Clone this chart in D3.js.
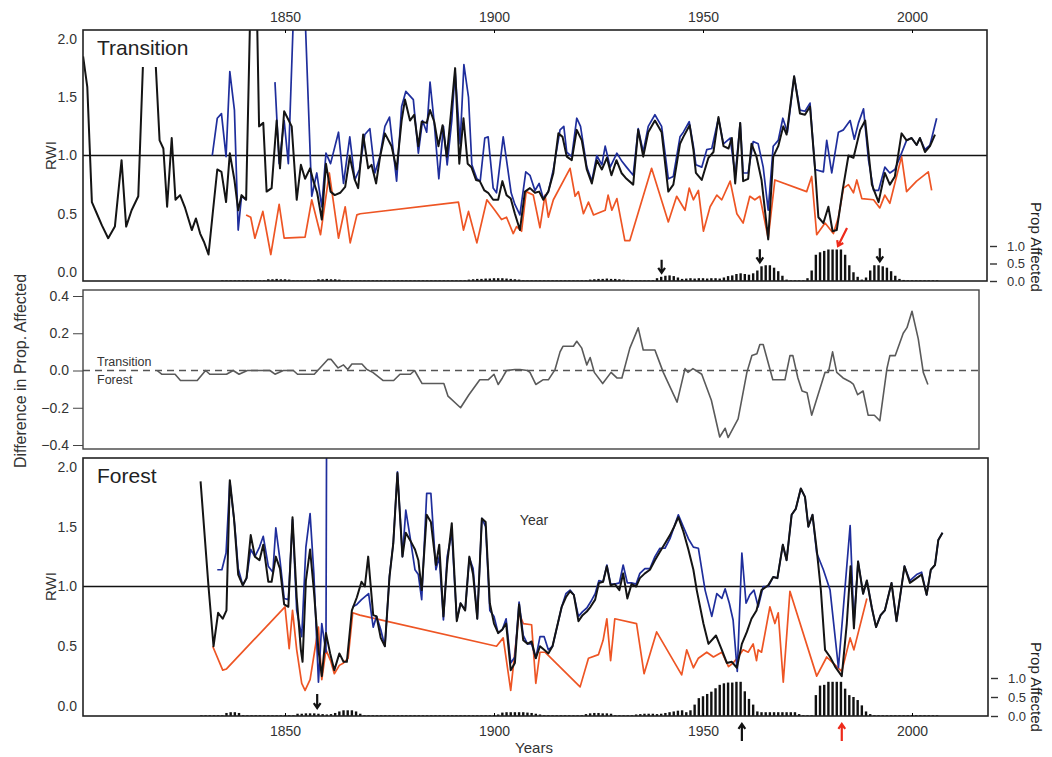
<!DOCTYPE html>
<html>
<head>
<meta charset="utf-8">
<script src="https://cdn.jsdelivr.net/npm/d3@7"></script>
<style>
  body { margin: 0; background: #fff; }
  svg { display: block; font-family: "Liberation Sans", Arial, sans-serif; }
  .axis text { fill: #333; }
</style>
</head>
<body>
<div id="chart"></div>
<script>
// ---- data ----
// [year, RWI] pairs; null marks a break in the series
var transBlack = [[1801.7,1.85],[1802.7,1.59],[1803.8,0.60],[1805,0.50],[1806.2,0.40],[1807.7,0.29],[1809.3,0.39],[1810.9,0.96],[1812,0.39],[1813.3,0.53],[1814.9,0.65],[1816,1.76],[1817.5,null],[1819.1,1.76],[1820,1.13],[1820.9,1.06],[1821.8,0.56],[1822.9,1.15],[1823.8,0.62],[1824.9,0.66],[1826.1,0.55],[1827.7,0.36],[1828.7,0.46],[1829.7,0.33],[1830.6,0.26],[1831.7,0.15],[1832.7,0.5],[1833.8,0.88],[1834.8,0.86],[1835.9,0.6],[1836.8,1.02],[1837.9,0.79],[1838.8,0.53],[1839.6,0.66],[1840.7,0.62],[1841.9,2.6],[1843.1,2.6],[1843.8,1.25],[1844.8,1.28],[1845.6,0.69],[1846.8,0.72],[1848,1.3],[1848.8,0.89],[1849.8,1.38],[1851.6,1.25],[1852.8,0.62],[1853.8,0.92],[1854.8,0.8],[1856,0.89],[1856.8,0.78],[1857.7,0.68],[1858.8,0.45],[1859.8,0.93],[1860.9,0.69],[1861.9,0.66],[1863.2,0.68],[1864.4,0.73],[1865.5,0.99],[1866.7,0.79],[1867.5,0.72],[1868.7,1.18],[1869.9,0.89],[1870.7,0.92],[1871.8,0.76],[1872.7,0.98],[1873.9,1.19],[1875.5,1.08],[1876.7,0.88],[1877.9,1.3],[1878.7,1.48],[1879.9,1.3],[1880.9,1.35],[1881.9,1.08],[1882.7,1.29],[1883.9,1.28],[1884.7,1.39],[1885.7,1.29],[1886.7,1.08],[1887.7,1.26],[1888.7,0.99],[1889.7,1.36],[1890.7,1.75],[1891.7,0.93],[1892.7,1.32],[1893.7,0.93],[1894.6,0.9],[1895.7,0.79],[1896.6,0.78],[1897.7,0.7],[1898.6,0.68],[1899.8,0.62],[1901,0.62],[1902,0.78],[1903,0.66],[1904,0.63],[1905,0.5],[1906.2,0.36],[1907.4,0.69],[1908.6,0.72],[1909.8,0.68],[1910.8,0.69],[1911.8,0.62],[1913,0.69],[1914.2,0.85],[1915.4,1.19],[1916.4,1.16],[1917.4,0.99],[1918.6,0.96],[1919.8,1.22],[1921,1.13],[1922.2,0.88],[1923.4,0.76],[1924.6,0.96],[1925.8,0.88],[1927,0.98],[1928.1,0.83],[1929.3,0.96],[1930.5,0.85],[1931.7,0.8],[1933.3,0.75],[1934.5,1.22],[1935.7,0.99],[1936.9,1.2],[1938.5,1.3],[1940.1,1.2],[1941.7,0.69],[1942.9,0.75],[1944.5,1.1],[1945.3,1.16],[1946.8,1.26],[1947.7,1.05],[1948.3,0.85],[1949.7,0.79],[1951.3,0.98],[1952.5,1.03],[1953.7,1.33],[1954.9,1.08],[1956.1,1.06],[1956.9,1.15],[1957.7,0.76],[1958.9,1.28],[1959.6,0.78],[1960.8,0.8],[1961.6,1.1],[1962.8,0.99],[1964,0.79],[1965.6,0.28],[1966.8,0.99],[1968,1.08],[1969.2,1.25],[1970,1.18],[1971.8,1.68],[1973.2,1.36],[1974.4,1.35],[1975.6,1.42],[1976.8,0.89],[1977.6,0.47],[1978.8,0.42],[1980,0.56],[1981,0.35],[1982,0.36],[1983.4,0.7],[1984.8,1.0],[1986,0.98],[1987.6,1.22],[1988.8,1.3],[1990.4,0.75],[1992,0.6],[1993.5,0.85],[1994.7,0.75],[1995.9,0.82],[1997.5,1.19],[1998.7,1.13],[1999.9,1.15],[2001.1,1.09],[2001.9,1.15],[2003.1,1.03],[2004.3,1.08],[2005.5,1.18]];

var transBlue = [[1832.6,1.0],[1833.8,1.32],[1834.8,1.36],[1835.9,0.99],[1836.8,1.72],[1837.9,1.39],[1838.8,0.36],[1839.6,0.65],[1840.7,0.62],[1844,null],[1847.6,1.63],[1848.6,0.93],[1849.8,1.3],[1850.8,0.93],[1852.4,2.6],[1854.4,2.6],[1856.4,0.65],[1857.6,0.85],[1858.8,0.56],[1859.8,1.02],[1860.9,0.93],[1862.8,1.2],[1864,0.76],[1865.5,1.16],[1866.7,0.79],[1867.8,0.88],[1869.1,1.18],[1870.3,1.23],[1871.5,0.85],[1872.7,0.99],[1873.9,1.25],[1875,1.33],[1876.7,0.78],[1877.9,1.42],[1878.9,1.55],[1880.7,1.48],[1881.9,1.02],[1882.9,1.3],[1883.9,1.2],[1884.7,1.63],[1885.7,1.28],[1886.8,0.8],[1887.9,1.25],[1888.8,0.92],[1889.9,1.3],[1890.7,1.72],[1891.9,1.1],[1892.8,1.78],[1893.9,1.5],[1894.7,0.92],[1895.9,0.8],[1896.7,0.78],[1897.8,1.15],[1898.6,1.16],[1899.8,0.72],[1900.6,0.68],[1902.2,1.16],[1903,0.96],[1904.1,0.68],[1905,0.58],[1906.2,0.49],[1907.6,0.86],[1908.6,0.83],[1909.8,0.7],[1910.8,0.76],[1911.8,0.63],[1913,0.69],[1914.2,0.88],[1915.8,1.22],[1916.7,1.25],[1917.4,1.03],[1918.6,0.99],[1919.8,1.32],[1920.7,1.25],[1922.2,0.9],[1923.4,0.78],[1924.6,1.0],[1925.8,0.92],[1926.6,1.08],[1927.8,0.9],[1929.4,1.02],[1930.6,0.95],[1931.7,0.9],[1933.3,0.83],[1934.5,1.23],[1935.7,1.03],[1936.9,1.25],[1938.5,1.35],[1940.1,1.25],[1941.7,0.8],[1942.9,0.82],[1944.5,1.16],[1945.3,1.2],[1946.7,1.29],[1947.7,1.08],[1948.3,0.92],[1949.7,0.9],[1950.9,1.05],[1952.1,1.06],[1953.7,1.32],[1954.9,1.1],[1956.5,1.15],[1957.7,0.83],[1958.9,1.28],[1959.6,0.85],[1960.8,0.85],[1962,1.12],[1963.2,1.1],[1964.4,0.9],[1965.6,0.53],[1966.8,1.08],[1968,1.13],[1969.1,1.32],[1970.2,1.2],[1971.8,1.68],[1973.2,1.39],[1974.4,1.38],[1975.6,1.45],[1976.8,0.88],[1978.8,0.86],[1979.6,1.13],[1980.8,0.85],[1982.4,1.2],[1983.6,1.22],[1985.2,1.3],[1986.2,1.14],[1987.2,1.28],[1988.4,1.4],[1989.6,0.96],[1990.8,0.7],[1992,0.7],[1993.5,0.9],[1994.7,0.85],[1995.9,0.88],[1997.5,1.02],[1998.7,1.13],[1999.9,1.15],[2001.1,1.09],[2001.9,1.15],[2003.1,1.05],[2004.3,1.09],[2005.9,1.32]];

var transOrange = [[1840.7,0.49],[1841.8,0.47],[1842.8,0.29],[1844.7,0.52],[1846.6,0.15],[1848.6,0.58],[1849.8,0.29],[1854.8,0.3],[1856.4,0.62],[1858.5,0.32],[1860.6,0.85],[1862.8,0.29],[1864.4,0.56],[1865.6,0.25],[1867.2,0.49],[1868,0.5],[1891.5,0.6],[1892.7,0.36],[1893.9,0.52],[1895.9,0.25],[1898.3,0.62],[1900.2,0.53],[1901.8,0.45],[1903,0.47],[1904.6,0.33],[1905.4,0.39],[1906.6,0.35],[1907.7,0.69],[1909.4,0.66],[1911,0.38],[1912.2,0.66],[1913,0.47],[1914.2,0.62],[1918.2,0.89],[1919.4,0.65],[1920.2,0.69],[1921.4,0.5],[1922.6,0.6],[1923.8,0.49],[1926.6,0.53],[1927.3,0.66],[1928.2,0.53],[1929.4,0.63],[1931.3,0.27],[1932.5,0.27],[1937.7,0.89],[1941.7,0.43],[1943.7,0.65],[1945.7,0.53],[1946.7,0.72],[1947.7,0.62],[1948.9,0.7],[1950.1,0.35],[1951.7,0.56],[1953.3,0.66],[1954.5,0.62],[1956.5,0.78],[1958.1,0.5],[1959.6,0.42],[1961.2,0.65],[1962.4,0.62],[1963.6,0.65],[1965.6,0.29],[1967.2,0.79],[1974.8,0.69],[1976,0.82],[1977.2,0.32],[1979.2,0.42],[1981.2,0.33],[1982.4,0.47],[1983.6,0.72],[1984.8,0.75],[1986,0.68],[1986.8,0.79],[1988,0.63],[1990.8,0.62],[1992.3,0.55],[1993.5,0.66],[1994.7,0.59],[1997.5,0.99],[1998.7,0.69],[2001.1,0.78],[2003.9,0.86],[2004.7,0.7]];

var forestBlack = [[1829.8,1.88],[1831.7,1.0],[1832.9,0.5],[1834,0.78],[1835.1,0.73],[1836,0.8],[1836.8,1.89],[1837.8,1.57],[1838.8,1.1],[1839.9,1.01],[1840.8,1.07],[1841.8,1.43],[1842.8,1.25],[1843.9,1.22],[1844.8,1.35],[1846,1.04],[1846.8,1.04],[1847.8,1.25],[1848.8,1.15],[1849.8,0.85],[1850.8,0.83],[1851.8,1.58],[1852.8,0.91],[1853.8,0.47],[1854.2,0.37],[1855,1.05],[1856,1.31],[1856.9,0.97],[1858,0.47],[1858.8,0.25],[1859.8,0.61],[1860.8,0.44],[1861.8,0.3],[1863,0.44],[1864,0.37],[1864.8,0.37],[1866,0.8],[1867.2,0.91],[1868.3,1.04],[1869.1,1.0],[1869.9,1.25],[1871.1,0.76],[1871.9,0.75],[1872.9,0.57],[1873.9,0.5],[1875,1.08],[1875.9,1.36],[1876.9,1.95],[1878.1,1.25],[1878.9,1.45],[1879.9,1.39],[1881.1,1.31],[1881.9,1.22],[1882.7,0.97],[1883.9,1.6],[1884.9,1.54],[1886.1,1.18],[1886.9,1.35],[1887.9,0.75],[1888.8,1.19],[1889.9,1.53],[1891.1,0.71],[1892,0.86],[1893.1,0.8],[1894.1,1.25],[1895,1.1],[1896,0.73],[1897.1,1.57],[1898,1.54],[1899,0.86],[1900,0.69],[1901,0.61],[1902,0.64],[1902.9,0.69],[1904,0.3],[1905,0.36],[1906,0.85],[1907,0.55],[1908,0.52],[1909,0.54],[1910,0.4],[1911,0.5],[1912,0.47],[1913,0.44],[1914,0.5],[1915,0.65],[1916.2,0.83],[1917.2,0.91],[1918.2,0.96],[1919.1,0.93],[1920.2,0.71],[1921.2,0.76],[1922.2,0.79],[1923.1,0.83],[1924.2,0.89],[1925.1,1.03],[1926.1,1.04],[1927,1.17],[1927.9,1.01],[1928.9,1.02],[1930,0.97],[1930.9,1.11],[1931.9,0.9],[1932.9,1.02],[1934,1.0],[1934.9,1.07],[1936.1,1.11],[1937.3,1.14],[1938.5,1.22],[1939.7,1.29],[1940.9,1.36],[1942.1,1.43],[1943.1,1.5],[1944.1,1.58],[1945.3,1.46],[1946.5,1.31],[1947.7,1.14],[1948.5,0.97],[1950.1,0.69],[1951.3,0.52],[1953.1,0.59],[1954.5,0.47],[1955.7,0.36],[1956.9,0.37],[1958.1,0.32],[1959.3,0.52],[1960.5,0.62],[1961.6,0.73],[1962.8,0.8],[1964,0.97],[1965.6,1.01],[1966.8,1.08],[1967.8,1.07],[1969.1,1.35],[1970,1.22],[1971.2,1.6],[1972.2,1.65],[1973.4,1.82],[1974.4,1.75],[1975.2,1.5],[1976.2,1.6],[1977.2,1.31],[1978.2,0.97],[1979.2,0.47],[1980.4,0.41],[1981.6,0.33],[1983.2,0.25],[1984.4,0.69],[1985.3,1.17],[1986.1,0.65],[1987.1,1.21],[1988.3,0.94],[1989.2,1.05],[1990.4,0.82],[1991.4,0.66],[1992.5,0.76],[1993.5,0.8],[1995.1,1.03],[1996.3,0.71],[1998.2,1.17],[1999.5,1.03],[2001.1,1.07],[2002.3,1.1],[2003.5,0.93],[2004.5,1.14],[2005.5,1.18],[2006.3,1.39],[2007.3,1.45]];

var forestBlue = [[1833.8,1.14],[1834.9,1.14],[1835.9,1.28],[1836.8,1.88],[1838,1.5],[1838.8,1.15],[1839.9,1.01],[1840.8,1.07],[1841.8,1.31],[1842.8,1.25],[1843.9,1.33],[1844.8,1.42],[1846,1.17],[1847.1,1.12],[1847.8,1.49],[1848.8,1.22],[1849.8,0.9],[1850.8,0.89],[1851.8,1.56],[1852.8,0.8],[1854,0.58],[1855,1.33],[1856,1.61],[1856.9,1.11],[1858,0.2],[1858.8,0.69],[1859.8,0.45],[1860.9,14],[1863,null],[1866.2,0.83],[1867.2,0.85],[1868.3,0.89],[1870,0.94],[1871.1,0.66],[1871.9,0.75],[1872.9,0.64],[1873.9,0.5],[1875,1.09],[1875.9,1.36],[1876.9,1.96],[1878.1,1.25],[1878.9,1.64],[1879.9,1.42],[1881.1,1.14],[1881.9,1.1],[1882.7,0.89],[1883.9,1.78],[1884.9,1.78],[1886.1,1.14],[1886.9,1.25],[1887.9,0.72],[1888.8,1.25],[1889.9,1.45],[1891.1,0.72],[1892,0.86],[1893.1,0.8],[1894.1,1.24],[1895,1.15],[1896,0.73],[1897.1,1.57],[1898,1.5],[1899,0.8],[1900,0.75],[1901,0.61],[1902,0.64],[1902.9,0.73],[1904,0.36],[1905,0.41],[1906,0.87],[1907,0.59],[1908,0.52],[1909,0.52],[1910,0.4],[1911,0.58],[1912,0.58],[1913,0.47],[1914,0.5],[1915,0.65],[1916.2,0.83],[1917.2,0.94],[1918.2,0.97],[1919.1,0.93],[1920.2,0.75],[1921.2,0.79],[1922.2,0.82],[1923.1,0.87],[1924.2,0.94],[1925.1,1.05],[1926.1,1.04],[1927,1.18],[1927.9,1.02],[1928.9,1.02],[1930,1.03],[1930.9,1.18],[1931.9,1.03],[1932.9,1.03],[1934,1.02],[1934.9,1.11],[1936.1,1.15],[1937.3,1.15],[1938.5,1.25],[1939.7,1.32],[1940.9,1.32],[1942.1,1.4],[1943.1,1.5],[1944.1,1.6],[1945.3,1.5],[1946.5,1.4],[1947.7,1.33],[1948.9,1.32],[1950.5,0.97],[1952.1,0.75],[1953.3,0.94],[1954.5,0.9],[1955.3,0.98],[1956.3,0.86],[1957.2,0.72],[1958.2,0.29],[1959.3,1.28],[1960.3,0.86],[1961.2,0.93],[1962.2,0.97],[1963.2,0.83],[1964.4,1.0],[1965.6,1.0],[1966.8,1.08],[1967.8,1.07],[1969.1,1.35],[1970,1.22],[1971.2,1.6],[1972.2,1.65],[1973.4,1.82],[1974.4,1.75],[1975.2,1.5],[1976.2,1.6],[1977.2,1.28],[1978.8,1.14],[1980.4,0.97],[1982.4,0.32],[1985.2,1.51],[1986.1,0.69],[1987.1,1.21],[1988.3,0.94],[1989.2,1.05],[1990.4,0.82],[1991.4,0.66],[1992.5,0.76],[1993.5,0.8],[1995.1,1.03],[1996.3,0.71],[1998.2,1.17],[1999.5,1.05],[2001.1,1.1],[2002.3,1.12],[2003.5,0.93],[2004.5,1.14],[2005.5,1.18],[2006.3,1.39],[2007.3,1.45]];

var forestOrange = [[1832.7,0.5],[1835.1,0.3],[1836,0.31],[1850,0.83],[1851,0.48],[1851.8,0.8],[1852.8,0.47],[1854,0.19],[1854.8,0.13],[1856,0.22],[1858,0.66],[1858.8,0.22],[1859.8,0.47],[1860.9,0.38],[1861.8,0.27],[1863,0.34],[1864,0.36],[1865.1,0.4],[1866.2,0.78],[1867.9,0.76],[1900.6,0.5],[1902.2,0.57],[1904,0.13],[1906,0.78],[1907,0.69],[1909,0.68],[1910,0.19],[1911,0.45],[1912.2,0.45],[1920.6,0.16],[1922.6,0.4],[1925,0.43],[1926.1,0.55],[1927,0.73],[1927.9,0.38],[1928.9,0.73],[1934.1,0.69],[1935.9,0.27],[1938.9,0.62],[1944.9,0.26],[1946.1,0.47],[1947.7,0.32],[1948.9,0.4],[1950.9,0.45],[1952.5,0.41],[1954.5,0.45],[1956.1,0.33],[1957.2,0.36],[1958.4,0.41],[1959.6,0.47],[1960.8,0.45],[1962,0.52],[1962.8,0.38],[1963.2,0.47],[1964,0.45],[1966,0.83],[1967.2,0.69],[1968,0.78],[1969.2,0.2],[1970.8,0.96],[1977.2,0.25],[1979.6,0.41],[1982,0.33],[1983.2,0.29],[1985.2,0.57],[1986.1,0.47],[1989.2,0.9]];

// transition minus forest proportion affected
var propDiff = [[1819.4,0],[1820.5,-0.02],[1823.7,-0.02],[1825,-0.054],[1829,-0.054],[1831,0],[1832,-0.02],[1836,-0.02],[1837.6,0],[1839,-0.02],[1841,0],[1846.4,0],[1847.6,-0.02],[1849.6,0],[1852,0],[1853,-0.02],[1857,-0.02],[1860.3,0.06],[1861,0.06],[1862.7,0.014],[1864,0.03],[1865,0.005],[1866,0.035],[1868.4,0.035],[1869.6,0.005],[1871,-0.01],[1873.5,-0.054],[1876,-0.054],[1877.5,-0.02],[1880,-0.02],[1881,0],[1882.8,-0.07],[1888,-0.07],[1889,-0.138],[1892,-0.2],[1894,-0.13],[1896.6,-0.05],[1898.6,-0.05],[1900,-0.02],[1901,-0.075],[1902,-0.04],[1903,0],[1905,0.005],[1906.2,0.005],[1908,0],[1908.6,-0.01],[1910,-0.075],[1911.7,-0.05],[1913,-0.05],[1914.6,0.005],[1915.8,0.1],[1916.5,0.13],[1919,0.13],[1919.8,0.157],[1921,0.12],[1922.2,0.03],[1923,0.07],[1924,-0.01],[1926,-0.07],[1928,-0.01],[1929.4,-0.04],[1930.6,-0.04],[1932.5,0.12],[1934.5,0.229],[1935.7,0.11],[1938.5,0.11],[1939,0.08],[1940.5,-0.01],[1943.8,-0.17],[1945.7,0.01],[1946.4,-0.01],[1947.6,0.01],[1949.7,-0.02],[1952,-0.16],[1954,-0.357],[1955.3,-0.31],[1956,-0.36],[1958.4,-0.26],[1960.5,-0.01],[1961.7,0.08],[1962.9,0.09],[1963.6,0.14],[1964.4,0.14],[1966.7,-0.05],[1969.6,-0.05],[1970.8,0.08],[1971.5,0.08],[1972.7,-0.04],[1973.7,-0.11],[1974.9,-0.12],[1976,-0.24],[1979.2,-0.01],[1980,-0.01],[1981,0.1],[1982,-0.01],[1983.5,-0.04],[1985.2,-0.06],[1986,-0.075],[1987,-0.13],[1988.3,-0.11],[1989.5,-0.24],[1991,-0.24],[1992.3,-0.27],[1994,0.01],[1994.7,0.08],[1996,0.08],[1997.9,0.2],[1998.8,0.23],[2000,0.318],[2001.5,0.17],[2002.7,-0.01],[2003.8,-0.075]];

// proportion of trees affected, one value per year
var transBarStart = 1835;
var transBars = [
  .02,.02,.02,.02,.02,.02,.02,.02,.02,.02,
  .02,.05,.05,.06,.05,.05,.04,.02,.02,.02,
  .02,.02,.02,.05,.05,.06,.05,.05,.04,.02,
  .02,.02,.02,.02,.02,.02,.02,.02,.02,.02,
  .02,.02,.02,.02,.02,.02,.02,.02,.02,.02,
  .02,.02,.02,.02,.02,.02,.02,.02,.02,.04,
  .05,.06,.06,.07,.07,.08,.08,.08,.07,.06,
  .05,.04,.02,.02,.02,.02,.02,.02,.02,.02,
  .02,.02,.02,.02,.02,.02,.02,.02,.04,.05,
  .06,.06,.07,.06,.06,.05,.04,.03,.02,.02,
  .02,.02,.02,.02,.08,.12,.15,.16,.14,.10,
  .06,.07,.08,.07,.08,.08,.07,.08,.08,.07,
  .10,.14,.16,.20,.22,.20,.18,.22,.30,.42,
  .45,.45,.38,.28,.15,.04,.02,.02,.02,.02,
  .08,.30,.75,.82,.86,.90,.90,.90,.90,.75,
  .45,.25,.12,.04,.10,.30,.45,.45,.42,.38,
  .28,.15,.06,.03,.02,.02,.02,.02,.02,.02,
  .02,.02
];
var forestBarStart = 1830;
var forestBars = [
  .02,.02,.02,.02,.02,.02,.08,.10,.10,.08,
  .02,.02,.02,.02,.02,.02,.02,.02,.02,.02,
  .02,.02,.02,.06,.06,.07,.07,.07,.06,.05,
  .04,.05,.08,.12,.15,.15,.15,.12,.06,.02,
  .02,.02,.02,.02,.02,.02,.02,.02,.02,.02,
  .02,.02,.02,.02,.02,.02,.02,.02,.02,.02,
  .02,.02,.02,.02,.02,.02,.02,.02,.02,.02,
  .02,.04,.09,.10,.10,.10,.10,.10,.09,.08,
  .06,.04,.02,.02,.02,.02,.02,.02,.02,.02,
  .02,.02,.05,.07,.08,.08,.07,.07,.06,.02,
  .02,.02,.02,.02,.04,.05,.06,.06,.06,.05,
  .06,.08,.10,.12,.14,.15,.10,.15,.30,.47,
  .52,.58,.64,.73,.82,.86,.88,.88,.90,.90,
  .65,.45,.30,.12,.10,.10,.10,.10,.10,.10,
  .10,.10,.10,.05,.02,.02,.02,.55,.80,.82,
  .90,.90,.90,.90,.72,.55,.50,.42,.28,.12,
  .05,.02,.02,.02,.02,.02,.02,.02,.02,.02,
  .02,.02,.02,.02,.02,.02,.02
];

var yearTicks = [1850, 1900, 1950, 2000];
var rwiTicks = [0, 0.5, 1.0, 1.5, 2.0];
var diffTicks = [-0.4, -0.2, 0, 0.2, 0.4];
var propTicks = [0, 0.5, 1.0];

// annotation arrows (years)
var transArrowsDown = [1940.1, 1963.6, 1992.3];
var transArrowRed = 1982.3;
var forestArrowDown = 1857.7;
var forestArrowUp = 1959.3;
var forestArrowRedUp = 1983.2;

// ---- layout ----
var width = 1052, height = 757;
var left = 83, right = 987;

var svg = d3.select("#chart").append("svg")
    .attr("width", width)
    .attr("height", height);

svg.append("rect").attr("width", width).attr("height", height).attr("fill", "#fff");

var x = d3.scaleLinear().domain([1850, 2000]).range([285, 912]);

var colBlack = "#141414", colBlue = "#1f2e9c", colOrange = "#ee5524";

var fmt1 = d3.format(".1f");

function rwiLine(y){
    return d3.line()
        .defined(function(d){ return d[1] != null; })
        .x(function(d){ return x(d[0]); })
        .y(function(d){ return y(d[1]); });
}

function arrow(g, x1, y1, x2, y2, color){
    var a = Math.atan2(y2 - y1, x2 - x1), L = 6, s = 0.6;
    g.append("path")
        .attr("d", "M" + x1 + "," + y1 + "L" + x2 + "," + y2 +
            "M" + (x2 - L * Math.cos(a - s)) + "," + (y2 - L * Math.sin(a - s)) +
            "L" + x2 + "," + y2 +
            "L" + (x2 - L * Math.cos(a + s)) + "," + (y2 - L * Math.sin(a + s)))
        .attr("fill", "none")
        .attr("stroke", color)
        .attr("stroke-width", 2.2)
        .attr("stroke-linejoin", "miter");
}

function rwiPanel(opt){
    var g = svg.append("g");
    var y = d3.scaleLinear().domain([0, 2]).range([opt.y0, opt.y2]);
    var yb = d3.scaleLinear().domain([0, 1]).range([opt.base, opt.bar1]);

    g.append("clipPath").attr("id", opt.id)
      .append("rect")
        .attr("x", left).attr("y", opt.top)
        .attr("width", opt.right - left).attr("height", opt.base - opt.top);

    // proportion affected bars
    var bars = opt.bars.map(function(v, i){ return {year: opt.barStart + i, value: v}; });
    g.selectAll(".bar").data(bars).enter().append("rect")
        .attr("class", "bar")
        .attr("x", function(d){ return x(d.year) - 1.2; })
        .attr("width", 2.4)
        .attr("y", function(d){ return yb(d.value); })
        .attr("height", function(d){ return opt.base - yb(d.value); })
        .attr("fill", "#111");

    // reference line at RWI = 1
    g.append("line")
        .attr("x1", left).attr("x2", opt.right)
        .attr("y1", y(1)).attr("y2", y(1))
        .attr("stroke", "#111").attr("stroke-width", 1.6);

    var lines = g.append("g").attr("clip-path", "url(#" + opt.id + ")");
    var line = rwiLine(y);
    [[opt.orange, colOrange, 1.7], [opt.blue, colBlue, 1.7], [opt.black, colBlack, 2]].forEach(function(s){
        lines.append("path")
            .datum(s[0])
            .attr("d", line)
            .attr("fill", "none")
            .attr("stroke", s[1])
            .attr("stroke-width", s[2])
            .attr("stroke-linejoin", "round");
    });

    // frame
    g.append("rect")
        .attr("x", left).attr("y", opt.top)
        .attr("width", opt.right - left).attr("height", opt.base - opt.top)
        .attr("fill", "none").attr("stroke", "#222").attr("stroke-width", 1.6);

    g.append("g").attr("class", "axis")
        .attr("transform", "translate(" + left + ",0)")
        .call(d3.axisLeft(y).tickValues(rwiTicks).tickFormat(fmt1).tickSize(0).tickPadding(6))
        .call(function(a){ a.select(".domain").remove(); })
        .selectAll("text").style("font-size", "14px");

    g.append("g").attr("class", "axis")
        .attr("transform", "translate(" + (opt.right + 3) + ",0)")
        .call(d3.axisRight(yb).tickValues(propTicks).tickFormat(fmt1).tickSize(7).tickPadding(10))
        .call(function(a){ a.select(".domain").remove(); a.selectAll("line").attr("stroke", "#333").attr("stroke-width", 1.4); })
        .selectAll("text").style("font-size", "13px");

    g.append("text")
        .attr("transform", "translate(51," + y(1) + ") rotate(-90)")
        .attr("text-anchor", "middle").attr("dy", "0.35em")
        .style("font-size", "15px").attr("fill", "#333")
        .text("RWI");

    g.append("text")
        .attr("transform", "translate(1036," + opt.propMid + ") rotate(90)")
        .attr("text-anchor", "middle").attr("dy", "0.35em")
        .style("font-size", "15px").attr("fill", "#222")
        .text("Prop Affected");

    g.append("text")
        .attr("x", 97).attr("y", opt.top + 25)
        .style("font-size", "21px").attr("fill", "#222")
        .text(opt.title);

    return {g: g, y: y, yb: yb};
}

// ---- top panel: Transition ----
var transPanel = rwiPanel({
    id: "clipTop", title: "Transition", top: 30, base: 281, right: right,
    y0: 272, y2: 39, bar1: 246, propMid: 247,
    bars: transBars, barStart: transBarStart,
    black: transBlack, blue: transBlue, orange: transOrange
});

transPanel.g.append("g").attr("class", "axis")
    .attr("transform", "translate(0,30)")
    .call(d3.axisTop(x).tickValues(yearTicks).tickFormat(d3.format("d")).tickSizeInner(-3).tickSizeOuter(0).tickPadding(8))
    .call(function(a){ a.select(".domain").remove(); })
    .selectAll("text").style("font-size", "14px");

transArrowsDown.forEach(function(yr){
    var i = Math.round(yr) - transBarStart;
    var hy = transPanel.yb(transBars[i]) - 4;
    arrow(transPanel.g, x(yr), hy - 13, x(yr), hy, "#111");
});
arrow(transPanel.g, x(transArrowRed) + 9, 228, x(transArrowRed), 246, "#ee2a1a");

// ---- middle panel: difference ----
var midPanel = svg.append("g");
var yMid = d3.scaleLinear().domain([-0.4, 0.4]).range([445, 296]);

midPanel.append("line")
    .attr("x1", left).attr("x2", 979)
    .attr("y1", yMid(0)).attr("y2", yMid(0))
    .attr("stroke", "#555").attr("stroke-width", 1.4)
    .attr("stroke-dasharray", "7,5");

midPanel.append("path")
    .datum(propDiff)
    .attr("d", d3.line().x(function(d){ return x(d[0]); }).y(function(d){ return yMid(d[1]); }))
    .attr("fill", "none")
    .attr("stroke", "#5a5a5a")
    .attr("stroke-width", 1.6)
    .attr("stroke-linejoin", "round");

midPanel.append("rect")
    .attr("x", left).attr("y", 290)
    .attr("width", 979 - left).attr("height", 159)
    .attr("fill", "none").attr("stroke", "#444").attr("stroke-width", 1.4);

midPanel.append("g").attr("class", "axis")
    .attr("transform", "translate(" + left + ",0)")
    .call(d3.axisLeft(yMid).tickValues(diffTicks).tickFormat(fmt1).tickSize(10).tickPadding(4))
    .call(function(a){ a.select(".domain").remove(); a.selectAll("line").attr("stroke", "#444"); })
    .selectAll("text").style("font-size", "14px");

midPanel.append("text").attr("x", 97).attr("y", 366)
    .style("font-size", "12.5px").attr("fill", "#333").text("Transition");
midPanel.append("text").attr("x", 97).attr("y", 384)
    .style("font-size", "12.5px").attr("fill", "#333").text("Forest");

midPanel.append("text")
    .attr("transform", "translate(20,371) rotate(-90)")
    .attr("text-anchor", "middle").attr("dy", "0.35em")
    .style("font-size", "16px").attr("fill", "#333")
    .text("Difference in Prop. Affected");

// ---- bottom panel: Forest ----
var forestPanel = rwiPanel({
    id: "clipBot", title: "Forest", top: 458, base: 716, right: 988,
    y0: 706, y2: 467, bar1: 678, propMid: 687,
    bars: forestBars, barStart: forestBarStart,
    black: forestBlack, blue: forestBlue, orange: forestOrange
});

forestPanel.g.append("g").attr("class", "axis")
    .attr("transform", "translate(0,716)")
    .call(d3.axisBottom(x).tickValues(yearTicks).tickFormat(d3.format("d")).tickSizeInner(-3).tickSizeOuter(0).tickPadding(10))
    .call(function(a){ a.select(".domain").remove(); })
    .selectAll("text").style("font-size", "14px");

forestPanel.g.append("text")
    .attr("x", 534).attr("y", 753)
    .attr("text-anchor", "middle")
    .style("font-size", "15px").attr("fill", "#333")
    .text("Years");

forestPanel.g.append("text")
    .attr("x", 534).attr("y", 525)
    .attr("text-anchor", "middle")
    .style("font-size", "14px").attr("fill", "#333")
    .text("Year");

arrow(forestPanel.g, x(forestArrowDown), 694, x(forestArrowDown), 708, "#111");
arrow(forestPanel.g, x(forestArrowUp), 741, x(forestArrowUp), 724, "#111");
arrow(forestPanel.g, x(forestArrowRedUp), 741, x(forestArrowRedUp), 724, "#ee2a1a");
</script>
</body>
</html>
